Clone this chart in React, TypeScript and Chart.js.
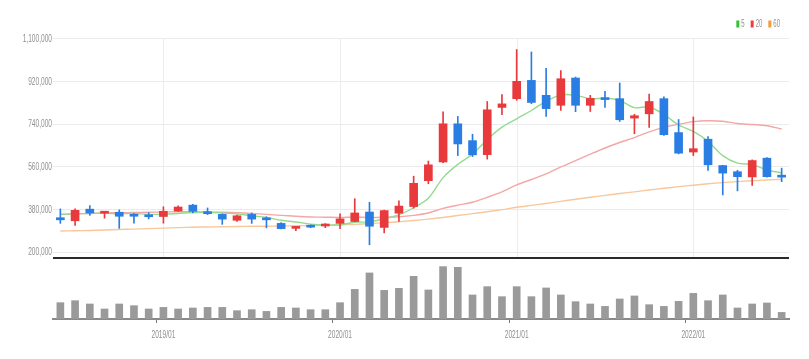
import { useEffect, useRef } from 'react';
import { Chart, registerables } from 'chart.js';

Chart.register(...registerables);

const months = [
  '2018/06', '2018/07', '2018/08', '2018/09', '2018/10', '2018/11', '2018/12',
  '2019/01', '2019/02', '2019/03', '2019/04', '2019/05', '2019/06', '2019/07', '2019/08', '2019/09', '2019/10', '2019/11', '2019/12',
  '2020/01', '2020/02', '2020/03', '2020/04', '2020/05', '2020/06', '2020/07', '2020/08', '2020/09', '2020/10', '2020/11', '2020/12',
  '2021/01', '2021/02', '2021/03', '2021/04', '2021/05', '2021/06', '2021/07', '2021/08', '2021/09', '2021/10', '2021/11', '2021/12',
  '2022/01', '2022/02', '2022/03', '2022/04', '2022/05', '2022/06', '2022/07',
];

const opens = [
  346000, 333000, 382000, 365000, 369000, 359000, 357000, 351000, 374000, 399000,
  370000, 360000, 335000, 360000, 345000, 322000, 301000, 314000, 311000, 322000,
  330000, 370000, 305000, 365000, 393000, 502000, 581000, 742000, 671000, 612000,
  811000, 848000, 925000, 862000, 820000, 935000, 820000, 851000, 848000, 766000,
  784000, 848000, 705000, 623000, 677000, 566000, 540000, 518000, 597000, 522000,
];
const highs = [
  383000, 383000, 397000, 372000, 379000, 363000, 367000, 392000, 396000, 402000,
  387000, 362000, 357000, 366000, 350000, 325000, 309000, 316000, 321000, 362000,
  426000, 411000, 378000, 417000, 521000, 585000, 792000, 773000, 698000, 836000,
  865000, 1055000, 1045000, 976000, 966000, 939000, 862000, 879000, 914000, 782000,
  867000, 856000, 760000, 771000, 688000, 567000, 546000, 590000, 600000, 555000,
];
const lows = [
  322000, 313000, 356000, 344000, 301000, 323000, 341000, 323000, 372000, 366000,
  359000, 318000, 330000, 322000, 303000, 299000, 291000, 304000, 304000, 300000,
  329000, 232000, 282000, 330000, 386000, 489000, 578000, 608000, 604000, 593000,
  780000, 841000, 827000, 773000, 798000, 793000, 794000, 811000, 752000, 700000,
  727000, 693000, 615000, 608000, 545000, 442000, 459000, 482000, 517000, 498000,
];
const closes = [
  337000, 377000, 366000, 371000, 352000, 352000, 350000, 373000, 391000, 373000,
  363000, 340000, 354000, 340000, 337000, 300000, 308000, 306000, 316000, 341000,
  366000, 310000, 376000, 395000, 491000, 569000, 742000, 657000, 611000, 801000,
  826000, 921000, 832000, 806000, 932000, 820000, 849000, 844000, 759000, 776000,
  836000, 696000, 618000, 637000, 569000, 534000, 519000, 587000, 519000, 517000,
];

const ma5 = [
  360000, 362000, 364000, 365000, 362000, 364000, 360000, 361000, 364000, 368000,
  369000, 366000, 362000, 354000, 347000, 335000, 328000, 319000, 315000, 316000,
  327000, 328000, 342000, 358000, 388000, 428000, 515000, 571000, 614000, 676000,
  728000, 763000, 798000, 837000, 864000, 862000, 848000, 850000, 841000, 810000,
  813000, 782000, 737000, 710000, 668000, 608000, 576000, 570000, 547000, 535000,
];
const ma20 = [
  360000, 362000, 364000, 366000, 367000, 368000, 369000, 370000, 371000, 371000,
  370000, 369000, 367000, 364000, 360000, 356000, 352000, 349000, 348000, 347000,
  349000, 347000, 348000, 350000, 356000, 366000, 385000, 399000, 411000, 432000,
  455000, 484000, 507000, 531000, 560000, 587000, 614000, 640000, 663000, 684000,
  708000, 727000, 740000, 751000, 755000, 753000, 743000, 739000, 734000, 720000,
];
const ma60 = [
  290000, 291000, 292000, 294000, 296000, 298000, 300000, 302000, 304000, 306000,
  307000, 308000, 309000, 310000, 310000, 311000, 312000, 313000, 314000, 316000,
  318000, 321000, 325000, 329000, 334000, 340000, 347000, 355000, 363000, 371000,
  380000, 390000, 398000, 406000, 415000, 424000, 432000, 440000, 448000, 455000,
  463000, 470000, 477000, 483000, 489000, 494000, 498000, 502000, 505000, 508000,
];

const volumes = [
  163000, 183000, 150000, 100000, 150000, 133000, 100000, 116000, 100000, 110000,
  116000, 116000, 83000, 93000, 76000, 116000, 110000, 93000, 93000, 163000,
  296000, 460000, 286000, 306000, 426000, 290000, 523000, 516000, 240000, 323000,
  223000, 323000, 223000, 310000, 240000, 173000, 150000, 126000, 200000, 230000,
  143000, 126000, 176000, 256000, 183000, 240000, 110000, 150000, 160000, 66000,
];

const priceTicks = [200000, 380000, 560000, 740000, 920000, 1100000];
const yearLabels = ['2019/01', '2020/01', '2021/01', '2022/01'];
const maLabels = ['5', '20', '60'];

const UP = '#e8393c';
const DOWN = '#2a7ee3';
const LEGEND_COLORS = ['#35c335', '#f03c3c', '#f59a3a'];
const LINE_COLORS = ['#93dc8f', '#f3a7a7', '#f8c79b'];
const LABEL_FONT = "11px 'Liberation Sans', Arial, sans-serif";
const LEGEND_FONT = "10px 'Liberation Sans', Arial, sans-serif";
const LABEL_COLOR = '#8f8f8f';
const SQUEEZE = 0.6;

function squeezedText(
  ctx: CanvasRenderingContext2D,
  text: string,
  x: number,
  y: number,
  align: CanvasTextAlign,
  font: string = LABEL_FONT,
) {
  ctx.save();
  ctx.translate(x, y);
  ctx.scale(SQUEEZE, 1);
  ctx.font = font;
  ctx.fillStyle = LABEL_COLOR;
  ctx.textAlign = align;
  ctx.textBaseline = 'middle';
  ctx.fillText(text, 0, 0);
  ctx.restore();
}

const panelPlugin = {
  id: 'panelLines',
  beforeDatasetsDraw(chart: any) {
    const { ctx, scales } = chart;
    const x = scales.x;
    const y = scales.y;
    ctx.save();
    ctx.strokeStyle = '#ececec';
    ctx.lineWidth = 1;
    months.forEach((m, i) => {
      if (yearLabels.includes(m)) {
        const px = Math.round(x.getPixelForValue(i)) + 0.5;
        ctx.beginPath();
        ctx.moveTo(px, y.top);
        ctx.lineTo(px, y.bottom);
        ctx.stroke();
      }
    });
    ctx.restore();
  },
  afterDatasetsDraw(chart: any) {
    const { ctx, chartArea, scales } = chart;
    const y = scales.y;
    ctx.save();
    ctx.strokeStyle = '#2a2a2a';
    ctx.lineWidth = 2;
    ctx.beginPath();
    ctx.moveTo(chartArea.left, y.bottom);
    ctx.lineTo(chartArea.right, y.bottom);
    ctx.stroke();
    ctx.restore();
  },
  afterDraw(chart: any) {
    const { ctx, scales, chartArea } = chart;
    const x = scales.x;
    const y = scales.y;
    priceTicks.forEach((v) => {
      squeezedText(ctx, v.toLocaleString('en-US'), chartArea.left - 1, y.getPixelForValue(v), 'right');
    });
    months.forEach((m, i) => {
      if (yearLabels.includes(m)) {
        squeezedText(ctx, m, x.getPixelForValue(i), x.top + 16, 'center');
      }
    });
    // legend (top right)
    ctx.save();
    ctx.font = LEGEND_FONT;
    const widths = maLabels.map((t) => ctx.measureText(t).width * SQUEEZE);
    ctx.restore();
    const boxW = 3;
    const gapText = 2;
    const gapItem = 6;
    const total = widths.reduce((a, w) => a + boxW + gapText + w, 0) + gapItem * (maLabels.length - 1);
    let lx = chartArea.right - 9 - total;
    const ly = chartArea.top - 14;
    maLabels.forEach((t, k) => {
      ctx.save();
      ctx.fillStyle = LEGEND_COLORS[k];
      ctx.fillRect(lx, ly - 3.5, boxW, 7);
      ctx.restore();
      squeezedText(ctx, t, lx + boxW + gapText, ly, 'left', LEGEND_FONT);
      lx += boxW + gapText + widths[k] + gapItem;
    });
  },
};

export default function App() {
  const ref = useRef<HTMLCanvasElement>(null);

  useEffect(() => {
    if (!ref.current) return;
    const colors = opens.map((o, i) => (closes[i] >= o ? UP : DOWN));
    const chart = new Chart(ref.current, {
      type: 'bar',
      data: {
        labels: months,
        datasets: [
          ...[ma5, ma20, ma60].map((d, k) => ({
            type: 'line' as const,
            label: maLabels[k],
            data: d,
            borderColor: LINE_COLORS[k],
            backgroundColor: LEGEND_COLORS[k],
            borderWidth: 1.4,
            pointRadius: 0,
            tension: 0.3,
            yAxisID: 'y',
            order: 5,
          })),
          {
            type: 'bar' as const,
            label: 'wick',
            data: lows.map((l, i) => [l, highs[i]]),
            backgroundColor: colors,
            barThickness: 1,
            grouped: false,
            yAxisID: 'y',
            order: 2,
          },
          {
            type: 'bar' as const,
            label: 'body',
            data: opens.map((o, i) => [o, closes[i]]),
            backgroundColor: colors,
            barThickness: 8,
            minBarLength: 2,
            grouped: false,
            yAxisID: 'y',
            order: 1,
          },
          {
            type: 'bar' as const,
            label: 'volume',
            data: volumes,
            backgroundColor: '#9a9a9a',
            barThickness: 7,
            grouped: false,
            yAxisID: 'yv',
            order: 1,
          },
        ],
      },
      options: {
        responsive: false,
        animation: false,
        layout: { padding: { left: 6, right: 20, top: 38, bottom: 16 } },
        plugins: {
          tooltip: { enabled: false },
          legend: { display: false },
        },
        scales: {
          x: {
            type: 'category',
            offset: true,
            afterFit: (s: any) => {
              s.height = 24;
            },
            ticks: { display: false, autoSkip: false },
            grid: {
              drawOnChartArea: false,
              tickLength: 4,
              tickColor: (c: any) => (yearLabels.includes(months[c.index]) ? '#777' : 'rgba(0,0,0,0)'),
            },
            border: { display: true, color: '#8a8a8a', width: 2 },
          },
          yv: {
            type: 'linear',
            position: 'left',
            stack: 'main',
            stackWeight: 1,
            min: 0,
            max: 610000,
            afterFit: (s: any) => {
              s.width = 47;
            },
            ticks: { display: false },
            grid: { display: false },
            border: { display: false },
          },
          y: {
            type: 'linear',
            position: 'left',
            stack: 'main',
            stackWeight: 3.6,
            min: 176400,
            max: 1103800,
            afterBuildTicks: (s: any) => {
              s.ticks = priceTicks.map((v) => ({ value: v }));
            },
            afterFit: (s: any) => {
              s.width = 47;
            },
            ticks: { display: false },
            grid: { color: '#ebebeb', drawTicks: false },
            border: { display: false },
          },
        },
      },
      plugins: [panelPlugin],
    } as any);
    return () => chart.destroy();
  }, []);

  return (
    <div style={{ position: 'absolute', left: 0, top: 0, width: 809, height: 359, background: '#fff' }}>
      <canvas ref={ref} width={809} height={359} style={{ display: 'block' }} />
    </div>
  );
}
